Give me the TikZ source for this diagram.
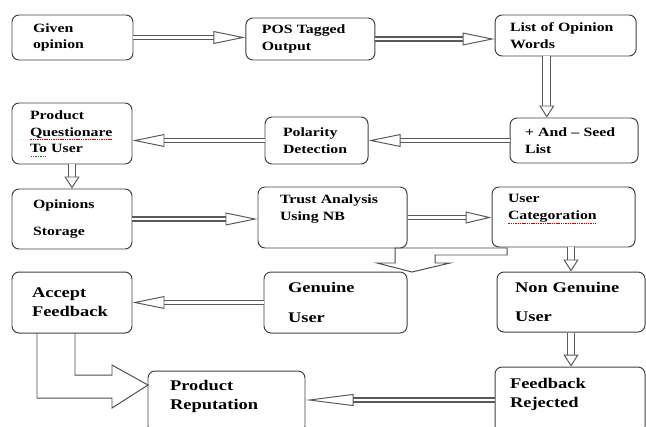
\documentclass[tikz,border=0pt]{standalone}
\usepackage{fontspec}
\setmainfont{Liberation Serif}[FakeStretch=1.25]
\usepackage{tikz}
\usetikzlibrary{arrows.meta, calc}

% spell-check marks under words
\newsavebox{\wordbox}
\newcommand{\markword}[2]{\leavevmode\sbox{\wordbox}{#2}\rlap{\raisebox{-2.6pt}{\textcolor{#1}{\hbox to \wd\wordbox{\xleaders\hbox to 1.6pt{\hss\rule{1pt}{0.6pt}\hss}\hfill}}}}#2}

\begin{document}
\begin{tikzpicture}[font=\bfseries\fontsize{9}{12}\selectfont,
  box/.style={draw=black!75, rounded corners=5pt, line width=0.7pt, align=left, inner sep=0pt},
  big/.style={box, font=\bfseries\fontsize{10.5}{13.5}\selectfont},
  flow/.style={draw=black!65, line width=0.8pt, double=white, double distance=2pt,
    -{Triangle[open, length=0.8cm, width=0.32cm, line width=0.7pt]}},
  drop/.style={flow, double distance=4pt, -{Triangle[open, length=0.3cm, width=0.38cm, line width=0.7pt]}},
  blockarrow/.style={draw=black!70, line width=0.7pt, line join=miter}]
\useasboundingbox (0,0) rectangle (16.15,-10.65);
\clip (0,0) rectangle (16.15,-10.65);
% row 1
\node[box, minimum width=3.025cm, minimum height=1.125cm, text width=1.975cm] (given) at (1.8125,-0.9375) {Given\\opinion};
\node[box, minimum width=3.225cm, minimum height=1.05cm, text width=2.425cm] (pos) at (7.76,-0.975) {POS Tagged\\Output};
\node[box, minimum width=3.525cm, minimum height=1.025cm, text width=2.775cm] (list) at (14.14,-0.8875) {List of Opinion\\Words};
% row 2
\node[box, minimum width=3.0cm, minimum height=1.525cm, text width=2.1cm] (prodq) at (1.8,-3.3375) {Product\\\markword{red!80!black}{Questionare}\\\markword{green!50!black}{To} User};
\node[box, minimum width=2.575cm, minimum height=1.175cm, text width=1.675cm] (polar) at (7.9125,-3.5125) {Polarity\\Detection};
\node[box, minimum width=3.2cm, minimum height=1.125cm, text width=2.45cm] (seed) at (14.35,-3.5125) {+ And – Seed\\List};
% row 3
\node[box, minimum width=3.0cm, minimum height=1.5cm, text width=1.95cm] (opinions) at (1.8,-5.475) {Opinions\\[7pt]Storage};
\node[box, minimum width=3.725cm, minimum height=1.525cm, text width=2.625cm] (trust) at (8.3125,-5.4375) {Trust Analysis\\Using NB\\[2pt]\mbox{}};
\node[box, minimum width=3.575cm, minimum height=1.5cm, text width=2.775cm] (usercat) at (14.0875,-5.425) {User\\\markword{red!80!black}{Categoration}\\[2pt]\mbox{}};
% row 4
\node[big, minimum width=3.0cm, minimum height=1.525cm, text width=2.0cm] (accept) at (1.8,-7.5625) {Accept\\Feedback};
\node[big, minimum width=3.575cm, minimum height=1.525cm, text width=2.375cm] (genuine) at (8.3875,-7.5625) {Genuine\\[7.5pt]User};
\node[big, minimum width=3.7cm, minimum height=1.5cm, text width=2.8cm] (nongen) at (14.275,-7.55) {Non Genuine\\[7.5pt]User};
% row 5
\node[big, minimum width=3.925cm, minimum height=1.55cm, text width=2.825cm] (prodrep) at (5.6625,-10.05) {Product\\Reputation\\[-4pt]\mbox{}};
\node[big, minimum width=3.75cm, minimum height=1.65cm, text width=3.0cm] (fbrej) at (14.25,-10.0) {Feedback\\Rejected\\[-4pt]\mbox{}};

\draw[flow] (given.east) -- (given.east -| pos.west);
\draw[flow] (pos.east) -- (pos.east -| list.west);
\draw[drop, double distance=5pt] ([xshift=-0.47cm]list.south) -- ([xshift=-0.47cm]list.south |- seed.north);
\draw[flow] (seed.west) -- (seed.west -| polar.east);
\draw[flow] (polar.west) -- (polar.west -| prodq.east);
\draw[drop] (prodq.south) -- (prodq.south |- opinions.north);
\draw[flow] (opinions.east) -- (opinions.east -| trust.west);
\draw[flow, -{Triangle[open, length=0.65cm, width=0.3cm, line width=0.7pt]}] (trust.east) -- (trust.east -| usercat.west);
\draw[drop] (usercat.south -| nongen.north) -- (nongen.north);
\draw[drop] (nongen.south) -- (nongen.south |- fbrej.north);
\draw[flow] (genuine.west) -- (genuine.west -| accept.east);
\draw[flow, -{Triangle[open, length=1.2cm, width=0.3cm, line width=0.7pt]}] (fbrej.west) -- (fbrej.west -| prodrep.east);

% bent block arrows
\draw[blockarrow] (9.875,-6.575) -- (9.875,-6.2) -- (12.675,-6.2) -- (12.675,-6.375) -- (10.875,-6.375)
  -- (10.875,-6.575) -- (11.25,-6.575) -- (10.3,-6.8) -- (9.425,-6.575) -- cycle;
\draw[blockarrow] (0.925,-8.325) -- (0.925,-9.95) -- (2.8,-9.95) -- (2.8,-10.2) -- (3.7,-9.625)
  -- (2.8,-9.125) -- (2.8,-9.375) -- (1.875,-9.375) -- (1.875,-8.325);
\end{tikzpicture}
\end{document}
